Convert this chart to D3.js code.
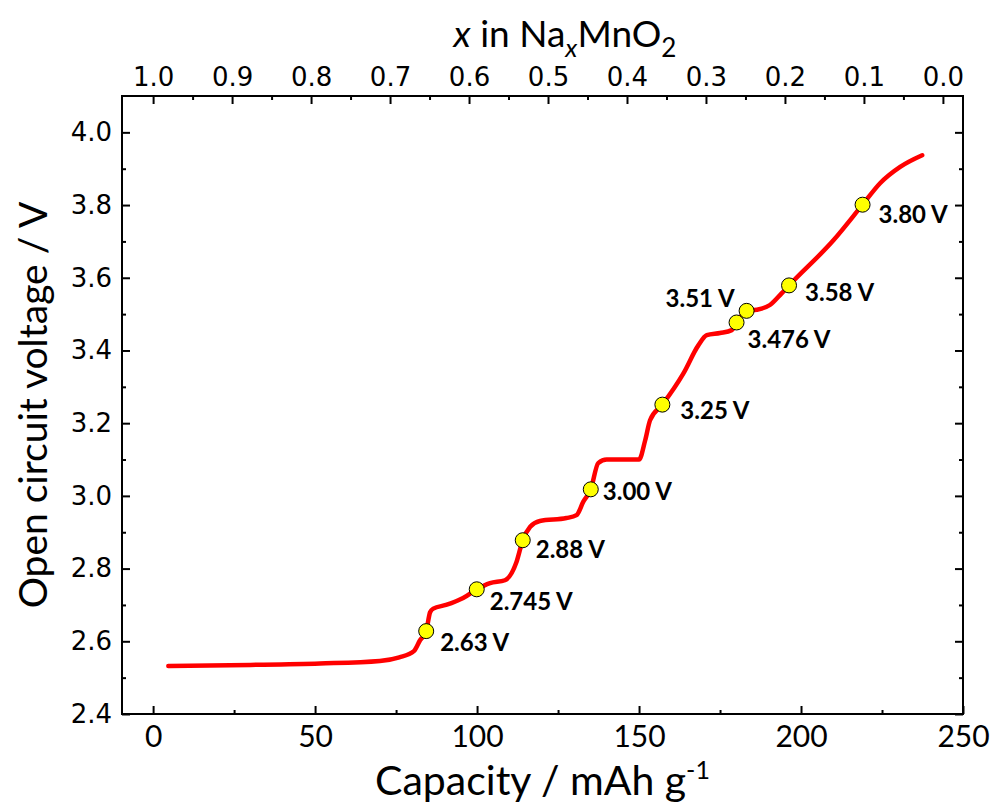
<!DOCTYPE html>
<html>
<head>
<meta charset="utf-8">
<script src="https://cdn.jsdelivr.net/npm/d3@7"></script>
<style>
  body { margin: 0; background: #fff; }
  .calib { font-family: Lato, "Open Sans", sans-serif; }
  .dv { font-family: "DejaVu Sans", sans-serif; }
</style>
</head>
<body>
<div id="chart"></div>
<script>
// OCV curve
var capacity = [4.7, 30, 51.5, 70, 76, 80.5, 82.4, 84.3, 85.5, 86.5, 90.4, 95.7, 99.9, 104, 108.6,
    112.2, 114.1, 116.4, 119.4, 127.6, 130.7, 132.8, 135.1, 137.4, 140, 150, 151.9, 153.4, 157.2,
    163.7, 168.3, 170.9, 175, 178.6, 180.1, 183.2, 186.3, 190.4, 194, 196.3, 210, 219, 224.4, 230.6, 237.4];
var voltage = [2.532, 2.535, 2.539, 2.546, 2.556, 2.573, 2.603, 2.628, 2.68, 2.69, 2.70, 2.719, 2.743, 2.76, 2.768,
    2.819, 2.878, 2.915, 2.931, 2.939, 2.947, 2.984, 3.018, 3.09, 3.10, 3.10, 3.153, 3.208, 3.251,
    3.337, 3.414, 3.442, 3.448, 3.456, 3.477, 3.509, 3.512, 3.525, 3.557, 3.579, 3.703, 3.801, 3.86, 3.905, 3.937];

// marked points
var markCap = [84.3, 99.9, 114.1, 135.1, 157.2, 180.1, 183.2, 196.3, 219];
var markV = [2.628, 2.743, 2.878, 3.018, 3.251, 3.477, 3.509, 3.579, 3.801];
var markLabel = ["2.63 V", "2.745 V", "2.88 V", "3.00 V", "3.25 V", "3.476 V", "3.51 V", "3.58 V", "3.80 V"];

// tick values
var capTicks = [0, 50, 100, 150, 200, 250];
var capMinor = [25, 75, 125, 175, 225];
var vTicks = [2.4, 2.6, 2.8, 3.0, 3.2, 3.4, 3.6, 3.8, 4.0];
var vMinor = [2.5, 2.7, 2.9, 3.1, 3.3, 3.5, 3.7, 3.9];
var xNaTicks = [1.0, 0.9, 0.8, 0.7, 0.6, 0.5, 0.4, 0.3, 0.2, 0.1, 0.0];
var xNaMinor = [0.95, 0.85, 0.75, 0.65, 0.55, 0.45, 0.35, 0.25, 0.15, 0.05];

// label offsets from each marker (px), [dx, dy, anchor]
var labelPos = [[14, 20, "start"], [13, 21, "start"], [13, 18, "start"], [12, 11, "start"],
    [18, 14, "start"], [11, 26, "start"], [-12, -4, "end"], [16, 16, "start"], [16, 18, "start"]];

var W = 995, H = 808;
var plotL = 122, plotR = 963, plotT = 96, plotB = 714;

var svg = d3.select("#chart").append("svg")
    .attr("width", W)
    .attr("height", H);

var x = d3.scaleLinear().domain([-9.6, 250]).range([plotL, plotR]);
var y = d3.scaleLinear().domain([2.4, 4.1]).range([plotB, plotT]);
// x in NaxMnO2: 1.0 at 0 mAh/g, 0.0 at ~243.8 mAh/g
var xTop = d3.scaleLinear().domain([1.0, 0.0]).range([x(0), x(243.8)]);

function styleAxis(g) {
    g.select(".domain").remove();
    g.selectAll(".tick line").attr("stroke", "#000").attr("stroke-width", 2);
}

// bottom
svg.append("g")
    .attr("transform", "translate(0," + plotB + ")")
    .call(d3.axisBottom(x).tickValues(capTicks).tickSize(-8).tickPadding(12).tickFormat(d3.format("d")))
    .call(styleAxis)
    .selectAll("text").attr("class", "calib").style("font-size", "30px").attr("fill", "#000");
svg.append("g")
    .attr("transform", "translate(0," + plotB + ")")
    .call(d3.axisBottom(x).tickValues(capMinor).tickSize(-4).tickFormat(""))
    .call(styleAxis);

// left
svg.append("g")
    .attr("transform", "translate(" + plotL + ",0)")
    .call(d3.axisLeft(y).tickValues(vTicks).tickSize(-8).tickPadding(10).tickFormat(d3.format(".1f")))
    .call(styleAxis)
    .selectAll("text").attr("class", "dv").style("font-size", "26px").attr("fill", "#000");
svg.append("g")
    .attr("transform", "translate(" + plotL + ",0)")
    .call(d3.axisLeft(y).tickValues(vMinor).tickSize(-4).tickFormat(""))
    .call(styleAxis);

// right
svg.append("g")
    .attr("transform", "translate(" + plotR + ",0)")
    .call(d3.axisRight(y).tickValues(vTicks).tickSize(-8).tickFormat(""))
    .call(styleAxis);
svg.append("g")
    .attr("transform", "translate(" + plotR + ",0)")
    .call(d3.axisRight(y).tickValues(vMinor).tickSize(-4).tickFormat(""))
    .call(styleAxis);

// top
svg.append("g")
    .attr("transform", "translate(0," + plotT + ")")
    .call(d3.axisTop(xTop).tickValues(xNaTicks).tickSize(-8).tickPadding(10).tickFormat(d3.format(".1f")))
    .call(styleAxis)
    .selectAll("text").attr("class", "dv").style("font-size", "26px").attr("fill", "#000");
svg.append("g")
    .attr("transform", "translate(0," + plotT + ")")
    .call(d3.axisTop(xTop).tickValues(xNaMinor).tickSize(-4).tickFormat(""))
    .call(styleAxis);

// frame
svg.append("rect")
    .attr("x", plotL)
    .attr("y", plotT)
    .attr("width", plotR - plotL)
    .attr("height", plotB - plotT)
    .attr("fill", "none")
    .attr("stroke", "#000")
    .attr("stroke-width", 2);

// curve
var pts = capacity.map(function(c, i) { return [c, voltage[i]]; });
var line = d3.line()
    .x(function(d) { return x(d[0]); })
    .y(function(d) { return y(d[1]); })
    .curve(d3.curveMonotoneX);

svg.append("path")
    .datum(pts)
    .attr("d", line)
    .attr("fill", "none")
    .attr("stroke", "#ff0000")
    .attr("stroke-width", 4.5)
    .attr("stroke-linecap", "round");

// markers
var marks = markCap.map(function(c, i) {
    return {c: c, v: markV[i], label: markLabel[i], pos: labelPos[i]};
});

svg.selectAll("circle.mark")
    .data(marks)
    .enter().append("circle")
    .attr("class", "mark")
    .attr("cx", function(d) { return x(d.c); })
    .attr("cy", function(d) { return y(d.v); })
    .attr("r", 7.5)
    .attr("fill", "#ffff00")
    .attr("stroke", "#000")
    .attr("stroke-width", 1);

svg.selectAll("text.mlabel")
    .data(marks)
    .enter().append("text")
    .attr("class", "mlabel calib")
    .attr("x", function(d) { return x(d.c) + d.pos[0]; })
    .attr("y", function(d) { return y(d.v) + d.pos[1]; })
    .attr("text-anchor", function(d) { return d.pos[2]; })
    .style("font-size", "24px")
    .style("font-weight", "bold")
    .text(function(d) { return d.label; });

// axis titles
var xt = svg.append("text")
    .attr("class", "calib")
    .attr("x", (plotL + plotR) / 2)
    .attr("y", 795)
    .attr("text-anchor", "middle")
    .style("font-size", "41px");
xt.append("tspan").text("Capacity / mAh g");
xt.append("tspan").attr("dy", -16).style("font-size", "25px").text("-1");

svg.append("text")
    .attr("class", "calib")
    .attr("transform", "translate(47," + ((plotT + plotB) / 2) + ") rotate(-90)")
    .attr("text-anchor", "middle")
    .style("font-size", "39px")
    .text("Open circuit voltage / V");

var tt = svg.append("text")
    .attr("class", "calib")
    .attr("x", 565)
    .attr("y", 47)
    .attr("text-anchor", "middle")
    .style("font-size", "37px");
tt.append("tspan").style("font-style", "italic").text("x");
tt.append("tspan").text(" in Na");
tt.append("tspan").attr("dy", 10).style("font-size", "26px").style("font-style", "italic").text("x");
tt.append("tspan").attr("dy", -10).text("MnO");
tt.append("tspan").attr("dy", 10).style("font-size", "26px").text("2");
</script>
</body>
</html>
